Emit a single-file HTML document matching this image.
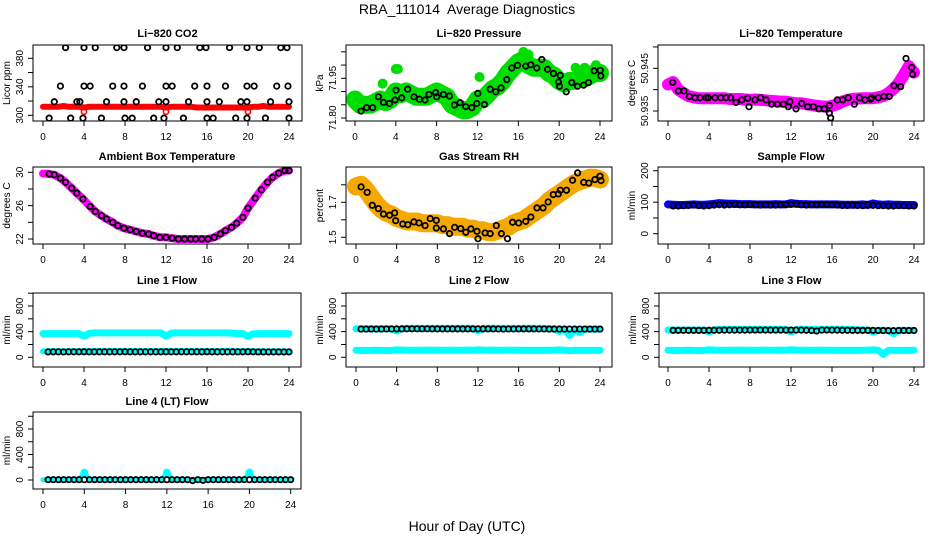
<!DOCTYPE html>
<html><head><meta charset="utf-8"><style>
html,body{margin:0;padding:0;background:#fff}
svg{display:block;font-family:"Liberation Sans",Arial,sans-serif}
</style></head><body>
<svg id="chart" width="936" height="540" viewBox="0 0 936 540" xmlns="http://www.w3.org/2000/svg">
<text x="467" y="14" text-anchor="middle" font-size="14" style="white-space:pre">RBA_111014  Average Diagnostics</text>
<text x="467" y="531" text-anchor="middle" font-size="14">Hour of Day (UTC)</text>
</svg>
<script>
const H48=[0.5,1,1.5,2,2.5,3,3.5,4,4.5,5,5.5,6,6.5,7,7.5,8,8.5,9,9.5,10,10.5,11,11.5,12,12.5,13,13.5,14,14.5,15,15.5,16,16.5,17,17.5,18,18.5,19,19.5,20,20.5,21,21.5,22,22.5,23,23.5,24];
const H49=[0,0.5,1,1.5,2,2.5,3,3.5,4,4.5,5,5.5,6,6.5,7,7.5,8,8.5,9,9.5,10,10.5,11,11.5,12,12.5,13,13.5,14,14.5,15,15.5,16,16.5,17,17.5,18,18.5,19,19.5,20,20.5,21,21.5,22,22.5,23,23.5,24];
const xTickLabels=[0,4,8,12,16,20,24];

// CO2
const co2BlackH=[2.2,4.0,5.1,7.2,7.9,10.2,12.0,13.1,15.3,15.9,18.2,19.9,21.1,23.2,23.8, 1.7,4.0,4.6,6.8,7.9,9.7,12.0,12.6,14.8,16.0,17.8,19.9,20.6,22.8,23.9, 1.1,3.3,3.6,6.2,7.9,9.1,11.3,12.0,14.2,16.0,17.2,19.3,19.9,22.2,24.0, 0.6,2.7,3.9,5.7,8.0,8.7,10.8,11.8,13.7,16.0,16.6,18.8,19.9,21.7,24.0];
const co2BlackV=[395,395,395,395,395,395,395,395,395,395,395,395,395,395,395, 341,341,341,341,341,341,341,341,341,341,341,341,341,341,341, 319,319,319,319,319,319,319,319,319,319,319,319,319,319,319, 296,296,296,296,296,296,296,296,296,296,296,296,296,296,296];
const co2Red=[312,312,312,312,313,312,312,312,311,312,312,312,312,312,312,312,312,312,312,312,312,312,312,312,311,312,312,312,312,312,311,311,311,311,311,311,311,311,311,311,311,312,312,313,312,312,312,312,312];
const co2RedOutH=[4,12,20];
const co2RedOutV=[305,305,305];

// Pressure
const presBlackH=[0.59,1.14,1.73,2.29,2.78,3.37,3.92,4.02,4.58,5.16,5.78,6.31,6.86,7.25,7.91,8.01,8.66,9.25,9.74,10.29,10.85,11.44,11.93,12.03,12.68,13.24,13.79,14.31,14.87,15.36,15.92,16.73,17.22,17.81,18.30,18.86,19.44,19.93,20.03,20.10,20.69,21.24,21.80,22.39,22.88,23.43,24.02,24.08];
const presBlackV=[71.826,71.839,71.839,71.880,71.859,71.855,71.868,71.905,71.876,71.909,71.880,71.871,71.868,71.889,71.896,71.880,71.889,71.883,71.849,71.858,71.843,71.839,71.855,71.893,71.851,71.909,71.899,71.914,71.945,71.989,71.999,71.996,72.001,71.989,72.021,71.984,71.968,71.936,71.920,71.961,71.899,71.934,71.920,71.924,71.934,71.978,71.980,71.959];
const presGreen=[71.87,71.85,71.85,71.85,71.86,71.87,71.86,71.87,71.90,71.89,71.90,71.89,71.88,71.88,71.88,71.89,71.90,71.89,71.88,71.85,71.84,71.83,71.83,71.84,71.87,71.87,71.89,71.91,71.92,71.94,71.97,71.99,72.01,72.02,72.00,71.99,71.99,71.99,71.97,71.96,71.94,71.93,71.94,71.94,71.95,71.95,71.96,71.97,71.97];
const presGreenExtraH=[4.0,4.2,2.7,12.2,21.6,22.5,23.6,16.5,17.0];
const presGreenExtraV=[71.985,71.985,71.93,71.955,71.99,71.99,72.0,72.05,72.04];

// Li-820 temperature
const tempBlackH=[0.46,1.01,1.56,2.08,2.63,3.12,3.71,3.93,4.59,5.14,5.66,6.11,6.63,7.19,7.77,7.90,8.49,9.04,9.56,10.11,10.67,11.25,11.74,11.90,12.49,13.04,13.63,14.18,14.73,15.25,15.74,15.74,15.87,16.52,17.04,17.59,18.18,18.67,19.22,19.77,19.87,20.52,21.07,21.59,22.05,22.70,23.22,23.77,23.87];
const tempBlackV=[50.9417,50.9397,50.9397,50.9384,50.9381,50.9381,50.9381,50.9381,50.9381,50.9381,50.9381,50.9381,50.9370,50.9376,50.9380,50.9360,50.9376,50.9381,50.9376,50.9366,50.9366,50.9366,50.9360,50.9372,50.9355,50.9368,50.9360,50.9360,50.9355,50.9355,50.9363,50.9345,50.9334,50.9376,50.9376,50.9381,50.9366,50.9381,50.9376,50.9378,50.9381,50.9381,50.9384,50.9384,50.9409,50.9407,50.9473,50.9452,50.9436];
const tempMagenta=[50.9412,50.9418,50.9400,50.9392,50.9385,50.9382,50.9380,50.9380,50.9380,50.9380,50.9380,50.9380,50.9378,50.9378,50.9378,50.9377,50.9376,50.9377,50.9376,50.9375,50.9374,50.9373,50.9372,50.9372,50.9370,50.9368,50.9368,50.9366,50.9364,50.9362,50.9361,50.9360,50.9362,50.9366,50.9372,50.9376,50.9378,50.9379,50.9380,50.9380,50.9380,50.9382,50.9385,50.9392,50.9402,50.9415,50.9435,50.9455,50.9440];

// Ambient box temperature
const ambH=[0.6,1.1,1.7,2.2,2.8,3.3,3.9,4.6,5.1,5.7,6.2,6.8,7.3,7.9,8.5,9.1,9.7,10.3,10.8,11.4,12.0,12.6,13.2,13.8,14.4,14.9,15.5,16.1,16.7,17.3,17.8,18.4,18.9,19.5,20.0,20.7,21.3,21.9,22.4,23.0,23.6,24.0];
const ambV=[29.8,29.7,29.3,28.8,28.1,27.5,26.8,25.9,25.3,24.8,24.4,24.0,23.6,23.3,23.1,22.9,22.7,22.6,22.4,22.2,22.2,22.1,22.0,22.0,22.0,22.0,22.0,22.0,22.2,22.6,23.0,23.4,23.9,24.6,25.7,26.9,27.9,28.8,29.4,29.9,30.2,30.2];
const ambMagH=[0,0.3,0.6,1.1,1.7,2.2,2.8,3.3,3.9,4.6,5.1,5.7,6.2,6.8,7.3,7.9,8.5,9.1,9.7,10.3,10.8,11.4,12.0,12.6,13.2,13.8,14.4,14.9,15.5,16.1,16.7,17.3,17.8,18.4,18.9,19.5,20.0,20.7,21.3,21.9,22.4,23.0,23.6,24.0];
const ambMagV=[29.85,29.85,29.8,29.7,29.3,28.8,28.1,27.5,26.8,25.9,25.3,24.8,24.4,24.0,23.6,23.3,23.1,22.9,22.7,22.6,22.4,22.2,22.2,22.1,22.0,22.0,22.0,22.0,22.0,22.0,22.2,22.6,23.0,23.4,23.9,24.6,25.7,26.9,27.9,28.8,29.4,29.9,30.2,30.2];

// Gas stream RH
const rhBlackH=[0.5,1.1,1.6,2.2,2.7,3.3,3.8,3.9,4.6,5.1,5.7,6.2,6.8,7.3,7.9,7.9,8.6,9.2,9.7,10.3,10.8,11.3,11.9,12.0,12.7,13.2,13.8,14.3,14.9,15.4,16.0,16.7,17.2,17.8,18.4,18.9,19.4,19.9,20.1,20.7,21.3,21.8,22.4,22.9,23.5,24.0,24.1];
const rhBlackV=[1.788,1.757,1.683,1.664,1.633,1.626,1.639,1.595,1.576,1.572,1.588,1.582,1.567,1.607,1.597,1.553,1.548,1.521,1.557,1.550,1.529,1.548,1.534,1.492,1.525,1.521,1.567,1.521,1.492,1.586,1.582,1.591,1.616,1.668,1.668,1.702,1.744,1.748,1.769,1.769,1.826,1.868,1.814,1.810,1.830,1.849,1.824];
const rhOrange=[1.79,1.80,1.77,1.73,1.69,1.66,1.64,1.63,1.61,1.60,1.59,1.59,1.59,1.58,1.58,1.58,1.58,1.57,1.57,1.56,1.56,1.56,1.55,1.55,1.54,1.54,1.53,1.53,1.54,1.55,1.56,1.58,1.59,1.60,1.62,1.64,1.66,1.68,1.71,1.73,1.75,1.77,1.79,1.81,1.82,1.83,1.84,1.84,1.83];

// Sample flow
const sampleBlack=[88,88,89,90,91,89,88,89,91,92,91,92,93,92,92,93,92,91,92,91,91,92,93,93,94,92,91,92,92,93,93,92,91,90,90,91,90,89,92,90,89,89,88,88,89,89,88,88];
const sampleBlue=[93,92,91,91,92,93,92,92,93,95,97,96,95,95,94,94,94,93,93,93,93,94,93,93,97,95,94,94,93,93,93,93,93,93,92,92,92,92,93,91,96,93,92,93,92,92,91,91,91];

// Line flows
const line1Upper=[370,370,370,370,370,370,370,370,330,372,380,380,380,380,380,380,380,380,380,380,380,380,380,380,330,378,380,380,380,380,380,380,380,380,380,380,380,375,370,370,325,365,370,370,370,370,370,370,370];
const line1Lower=[95,95,96,95,95,96,95,95,96,97,98,98,98,98,98,98,98,98,98,98,98,98,98,98,98,98,98,98,98,98,98,98,98,98,98,98,98,98,97,96,96,95,95,95,95,95,95,95,95];
const line1Black=[84,85,85,84,85,85,85,86,85,85,85,85,85,85,85,86,85,85,85,85,85,85,85,86,85,85,85,85,85,85,85,86,85,85,85,85,85,85,85,86,85,84,84,84,84,84,84,84];
const line2Upper=[445,445,445,445,445,445,445,445,410,445,450,450,450,450,450,450,450,450,450,450,450,450,450,450,410,450,450,450,450,450,450,450,450,450,450,450,450,450,445,445,400,445,340,440,385,440,440,440,440];
const line2Lower=[110,108,106,108,110,108,106,108,116,112,110,110,112,110,112,110,112,110,110,112,110,110,112,110,116,112,110,112,110,110,112,110,110,108,110,108,110,108,110,110,116,110,105,108,108,108,108,108,110];
const line2Black=[440,440,441,440,441,442,442,443,443,444,444,444,444,444,443,443,443,443,443,443,443,443,443,444,443,443,443,442,441,442,442,443,443,443,443,442,442,441,441,441,440,440,440,440,440,440,440,440];
const line3Upper=[425,425,425,425,425,425,425,425,395,430,435,435,435,435,435,435,435,435,435,435,435,435,435,435,395,432,435,435,435,435,435,435,435,435,435,435,432,430,425,425,395,420,420,420,370,420,420,420,420];
const line3Lower=[110,108,106,108,110,108,106,108,118,112,110,110,112,110,112,110,112,110,110,112,110,110,112,110,118,112,110,112,110,110,112,110,110,108,110,108,110,108,110,110,116,110,45,108,108,108,108,108,110];
const line3Black=[420,420,420,420,420,420,420,422,422,422,424,424,424,424,424,425,425,425,425,424,424,424,424,425,424,424,422,418,410,424,425,424,424,422,421,420,420,420,420,420,418,418,416,416,418,418,418,418];
const line4Cyan=[5,5,5,5,5,5,5,5,115,5,5,5,5,5,5,5,5,5,5,5,5,5,5,5,115,5,5,5,5,5,5,5,5,5,5,5,5,5,5,5,115,5,5,5,5,5,5,5,5];
const line4Black=[5,5,5,5,5,5,5,5,5,5,5,5,5,5,5,5,5,5,5,5,5,5,5,5,5,5,5,5,-10,5,-5,5,5,5,5,5,5,5,5,5,5,5,5,5,5,5,5,5];

const NS="http://www.w3.org/2000/svg";
const svg=document.getElementById('chart');
function mk(tag,attrs,parent){const e=document.createElementNS(NS,tag);for(const k in attrs)e.setAttribute(k,attrs[k]);(parent||svg).appendChild(e);return e;}
let clipId=0;
function panel(c){
  const g=mk('g',{});
  
  
  const [l,t,r,b]=c.box;
  const sx=h=>c.x0+h*(c.x24-c.x0)/24;
  const sy=v=>c.p1+(v-c.v1)*(c.p2-c.p1)/(c.v2-c.v1);
  clipId++;
  const cp=mk('clipPath',{id:'cp'+clipId},g);
  mk('rect',{x:l,y:t,width:r-l,height:b-t},cp);
  const plot=mk('g',{'clip-path':'url(#cp'+clipId+')'},g);
  
  
  const box=mk('rect',{x:l,y:t,width:r-l,height:b-t,fill:'none',stroke:'#000','stroke-width':1},g);
  
  
  const title=mk('text',{x:(l+r)/2,y:c.titleY,'text-anchor':'middle','font-size':11,'font-weight':'bold'},g);
  title.textContent=c.title;
  
  
  const xa=mk('g',{},g);
  
  
  mk('line',{x1:sx(0),x2:sx(24),y1:b,y2:b,stroke:'#000'},xa);
  xTickLabels.forEach(v=>{
    mk('line',{x1:sx(v),x2:sx(v),y1:b,y2:b+5,stroke:'#000'},xa);
    const tx=mk('text',{x:sx(v),y:b+19,'text-anchor':'middle','font-size':10},xa);
    tx.textContent=v;
    
    
  });
  const ya=mk('g',{},g);
  
  
  mk('line',{x1:l,x2:l,y1:sy(c.yTicks[0]),y2:sy(c.yTicks[c.yTicks.length-1]),stroke:'#000'},ya);
  c.yTicks.forEach(v=>mk('line',{x1:l-5,x2:l,y1:sy(v),y2:sy(v),stroke:'#000'},ya));
  c.yLabels.forEach((v,i)=>{
    const y=sy(v),x=l-10;
    const tx=mk('text',{x:x,y:y,transform:`rotate(-90 ${x} ${y})`,'text-anchor':'middle','font-size':10},ya);
    tx.textContent=c.yLabelText?c.yLabelText[i]:v;
    
    
  });
  const yl=mk('text',{x:l-23,y:(t+b)/2,transform:`rotate(-90 ${l-23} ${(t+b)/2})`,'text-anchor':'middle','font-size':10},g);
  yl.textContent=c.ylab;
  
  
  return {plot,sx,sy};
}
function band(p,hs,vs,color,w,name){
  const n=Math.min(hs.length,vs.length);
  let d='';
  for(let i=0;i<n;i++)d+=(i?'L':'M')+p.sx(hs[i]).toFixed(1)+','+p.sy(vs[i]).toFixed(1);
  const e=mk('path',{d:d,fill:'none',stroke:color,'stroke-width':w,'stroke-linejoin':'round','stroke-linecap':'round'},p.plot);
  
  
}
function pts(p,hs,vs,color,r,sw,name){
  const n=Math.min(hs.length,vs.length);
  const g=mk('g',{},p.plot);
  
  
  for(let i=0;i<n;i++){
    const c=mk('circle',{cx:p.sx(hs[i]),cy:p.sy(vs[i]),r:r,fill:'none',stroke:color,'stroke-width':sw},g);
    
    
  }
}
const flowTicks=[0,200,400,600,800,1000];
const BR=2.7, BW=1.8;

let p=panel({name:'co2-panel',title:'Li\u2212820 CO2',ylab:'Licor ppm',box:[33,45,302,121],titleY:37,x0:43,x24:289,v1:300,p1:115.3,v2:380,p2:58.3,yTicks:[300,320,340,360,380],yLabels:[300,340,380]});
band(p,H49,co2Red,'#ff0000',6,'co2-raw-band');
pts(p,co2RedOutH,co2RedOutV,'#ff0000',2.6,1.6,'co2-raw-outliers');
pts(p,co2BlackH,co2BlackV,'#000',BR,BW,'co2-averages');

p=panel({name:'pressure-panel',title:'Li\u2212820 Pressure',ylab:'kPa',box:[346,45,612,121],titleY:37,x0:355,x24:600,v1:71.80,p1:118,v2:71.95,p2:78.3,yTicks:[71.80,71.85,71.90,71.95,72.00,72.05],yLabels:[71.80,71.95],yLabelText:['71.80','71.95']});
band(p,H49,presGreen,'#00dd00',18,'pressure-raw-band');
pts(p,presGreenExtraH,presGreenExtraV,'#00dd00',2.5,5,'pressure-raw-extra');
pts(p,presBlackH,presBlackV,'#000',BR,BW,'pressure-averages');

p=panel({name:'li820-temperature-panel',title:'Li\u2212820 Temperature',ylab:'degrees C',box:[658,45,924,121],titleY:37,x0:668,x24:914,v1:50.935,p1:111,v2:50.945,p2:68.3,yTicks:[50.935,50.940,50.945,50.950],yLabels:[50.935,50.945],yLabelText:['50.935','50.945']});
band(p,H49,tempMagenta,'#ff00ff',12,'temperature-raw-band');
pts(p,tempBlackH,tempBlackV,'#000',BR,BW,'temperature-averages');

p=panel({name:'ambient-temperature-panel',title:'Ambient Box Temperature',ylab:'degrees C',box:[33,167,301,244],titleY:160,x0:43,x24:289,v1:22,p1:239,v2:30,p2:172.3,yTicks:[22,24,26,28,30],yLabels:[22,26,30]});
band(p,ambMagH,ambMagV,'#ff00ff',8,'ambient-raw-band');
pts(p,ambH,ambV,'#000',BR,BW,'ambient-averages');

p=panel({name:'gas-rh-panel',title:'Gas Stream RH',ylab:'percent',box:[346,167,612,244],titleY:160,x0:356,x24:600,v1:1.5,p1:237.3,v2:1.7,p2:202.3,yTicks:[1.5,1.6,1.7,1.8],yLabels:[1.5,1.7],yLabelText:['1.5','1.7']});
band(p,H49,rhOrange,'#f5a800',18,'rh-raw-band');
pts(p,rhBlackH,rhBlackV,'#000',BR,BW,'rh-averages');

p=panel({name:'sample-flow-panel',title:'Sample Flow',ylab:'ml/min',box:[658,167,924,244],titleY:160,x0:668,x24:914,v1:0,p1:233.7,v2:200,p2:170.7,yTicks:[0,50,100,150,200],yLabels:[0,100,200]});
band(p,H49,sampleBlue,'#0000ff',8,'sample-raw-band');
pts(p,H48,sampleBlack,'#000',BR,BW,'sample-averages');

p=panel({name:'line1-flow-panel',title:'Line 1 Flow',ylab:'ml/min',box:[33,293,301,367],titleY:284,x0:43,x24:289,v1:0,p1:357.3,v2:800,p2:306,yTicks:flowTicks,yLabels:[0,400,800]});
band(p,H49,line1Upper,'#00ffff',7,'line1-upper-band');
band(p,H49,line1Lower,'#00ffff',6,'line1-lower-band');
pts(p,H48,line1Black,'#000',BR,BW,'line1-averages');

p=panel({name:'line2-flow-panel',title:'Line 2 Flow',ylab:'ml/min',box:[346,293,612,367],titleY:284,x0:356,x24:600,v1:0,p1:357.3,v2:800,p2:306,yTicks:flowTicks,yLabels:[0,400,800]});
band(p,H49,line2Upper,'#00ffff',7,'line2-upper-band');
band(p,H49,line2Lower,'#00ffff',7,'line2-lower-band');
pts(p,H48,line2Black,'#000',BR,BW,'line2-averages');

p=panel({name:'line3-flow-panel',title:'Line 3 Flow',ylab:'ml/min',box:[659,293,924,367],titleY:284,x0:668,x24:914,v1:0,p1:357.3,v2:800,p2:306,yTicks:flowTicks,yLabels:[0,400,800]});
band(p,H49,line3Upper,'#00ffff',7,'line3-upper-band');
band(p,H49,line3Lower,'#00ffff',7,'line3-lower-band');
pts(p,H48,line3Black,'#000',BR,BW,'line3-averages');

p=panel({name:'line4-flow-panel',title:'Line 4 (LT) Flow',ylab:'ml/min',box:[33,412,301,489],titleY:405,x0:43,x24:290.7,v1:0,p1:480,v2:800,p2:429,yTicks:flowTicks,yLabels:[0,400,800]});
band(p,H49,line4Cyan,'#00ffff',5,'line4-raw-band');
pts(p,[4,12,20],[115,115,115],'#00ffff',3,2,'line4-raw-spikes');
pts(p,H48,line4Black,'#000',BR,BW,'line4-averages');
</script>
</body></html>
